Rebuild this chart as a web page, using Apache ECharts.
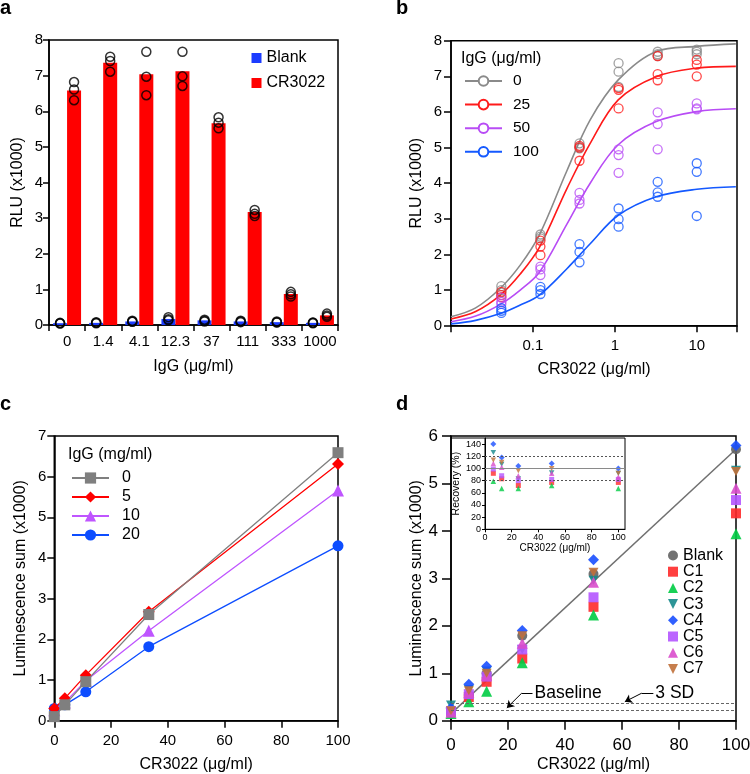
<!DOCTYPE html>
<html><head><meta charset="utf-8">
<script src="https://cdn.jsdelivr.net/npm/echarts@6/dist/echarts.min.js"></script>
<style>html,body{margin:0;padding:0;background:#fff}#c{width:750px;height:774px}</style>
</head><body><div id="c"></div>
<script>
// ---------- Panel a ----------
const aCategories = ['0','1.4','4.1','12.3','37','111','333','1000'];
const aBlankMeans = [0.05,0.06,0.10,0.17,0.13,0.10,0.08,0.06];
const aCR3022Means = [6.58,7.36,7.04,7.12,5.66,3.17,0.87,0.27];
const aBlankReps = [[0.06,0.05,0.04],[0.08,0.06,0.05],[0.12,0.10,0.09],[0.22,0.16,0.13],[0.15,0.12,0.10],[0.12,0.10,0.08],[0.10,0.08,0.07],[0.07,0.06,0.05]];
const aCR3022Reps = [[6.82,6.61,6.31],[7.53,7.41,7.11],[7.67,6.97,6.45],[7.67,6.98,6.71],[5.83,5.68,5.52],[3.23,3.12,3.06],[0.93,0.86,0.80],[0.32,0.27,0.23]];

// ---------- Panel b ----------
const bConc = [0.04115,0.1235,0.3704,1.111,3.333,10];
const bGroups = ['0','25','50','100'];
const bReps0 = [[1.11,1.00,0.93],[2.56,2.50,2.45],[5.12,5.02,4.98],[7.37,7.13,6.70],[7.69,7.62,7.57],[7.75,7.69,7.62]];
const bReps25 = [[0.95,0.86,0.80],[2.39,2.22,1.98],[5.05,5.00,4.63],[6.67,6.62,6.10],[7.57,7.06,6.89],[7.46,7.33,7.00]];
const bReps50 = [[0.79,0.67,0.61],[1.66,1.58,1.42],[3.73,3.53,3.43],[4.95,4.79,4.29],[5.99,5.66,4.95],[6.24,6.10,6.07]];
const bReps100 = [[0.49,0.42,0.36],[1.09,1.00,0.89],[2.29,2.07,1.78],[3.29,2.99,2.78],[4.04,3.74,3.62],[4.56,4.32,3.08]];
const bCurveX = [0.01,0.02,0.04,0.07,0.12,0.26,0.5,1.1,3.2,10,30];
const bCurve0 = [0.25,0.50,1.05,1.70,2.55,4.35,5.78,6.90,7.70,7.84,7.91];
const bCurve25 = [0.19,0.40,0.86,1.45,2.20,3.85,5.12,6.34,6.99,7.23,7.28];
const bCurve50 = [0.11,0.27,0.60,1.00,1.50,2.85,4.00,5.08,5.73,6.01,6.09];
const bCurve100 = [0.05,0.15,0.34,0.58,0.86,1.60,2.30,3.10,3.62,3.83,3.90];
const bTickLabels = ['0.1','1','10'];

// ---------- Panel c ----------
const cConc = [0,3.7,11.1,33.3,100];
const cGroups = ['0','5','10','20'];
const c0 = [0.10,0.39,0.96,2.61,6.59];
const c5 = [0.30,0.55,1.12,2.68,6.31];
const c10 = [0.26,0.45,0.98,2.21,5.66];
const c20 = [0.30,0.39,0.71,1.82,4.30];

// ---------- Panel d ----------
const dConc = [0,6.25,12.5,25,50,100];
const dNames = ['Blank','C1','C2','C3','C4','C5','C6','C7'];
const dBlank = [0.15,0.54,1.00,1.79,3.09,5.72];
const dC1 = [0.19,0.50,0.82,1.31,2.40,4.37];
const dC2 = [0.15,0.40,0.62,1.22,2.23,3.94];
const dC3 = [0.33,0.66,1.05,1.50,2.96,5.28];
const dC4 = [0.27,0.77,1.15,1.90,3.39,5.80];
const dC5 = [0.20,0.56,0.93,1.50,2.60,4.65];
const dC6 = [0.18,0.60,0.96,1.63,2.92,4.90];
const dC7 = [0.21,0.63,1.00,1.79,3.13,5.25];
const dFitX = [0,100];
const dFitY = [0.15,5.72];
const dBaseline = 0.225;
const d3SD = 0.365;
// inset: recovery (%)
const insetConc = [6.25,12.5,25,50,100];
const rC1 = [92,83,72,77,77];
const rC2 = [79,67,67,72,67];
const rC3 = [126,107,83,93,92];
const rC4 = [140,118,104,108,100];
const rC5 = [99,88,80,82,82];
const rC6 = [108,102,88,92,86];
const rC7 = [114,110,96,100,92];
const insetRefLines = [80,100,120];

const FONT = 'Liberation Sans, Arial, sans-serif';
const chart = echarts.init(document.getElementById('c'), null, {renderer:'canvas'});

function axis(o) {
  const base = {
    gridIndex: o.g, type: o.type || 'value', min: o.min, max: o.max, interval: o.interval,
    axisLine: {show:true, onZero:false, lineStyle:{color:'#000', width:o.lw || 1.5}},
    axisTick: {show:true, inside:false, length:o.tick, lineStyle:{color:'#000', width:o.lw || 1.5}},
    axisLabel: {color:'#000', fontSize:o.fs, fontFamily:FONT, margin:o.margin, showMaxLabel: o.showMax !== false, formatter:o.fmt},
    splitLine: {show:false},
    name: o.name, nameLocation:'middle', nameGap:o.nameGap,
    nameTextStyle: {color:'#000', fontSize:o.nfs || 16, fontFamily:FONT}
  };
  if (o.data) base.data = o.data;
  if (o.logBase) base.logBase = o.logBase;
  return base;
}
function pairs(xs, ys) { return xs.map((x,i)=>[x, ys[i]]); }
function reps(xs, r) { const out=[]; xs.forEach((x,i)=>r[i].forEach(v=>out.push([x,v]))); return out; }
const strip = n => n.split('|')[1];
const triDown = 'path://M0,0L10,0L5,10Z';

const grids = [
  {left:49, top:40, width:289, height:285},
  {left:451, top:40.7, width:286, height:285},
  {left:54.3, top:436, width:283.7, height:284.7},
  {left:451, top:436, width:285, height:284.7},
  {left:485, top:438, width:140, height:91.3}
].map(g => Object.assign({show:true, borderColor:'#000', borderWidth:1.5, backgroundColor:'transparent', containLabel:false, outerBoundsMode:'none'}, g));
grids[4].borderWidth = 1;

const xAxes = [
  axis({g:0, type:'category', data:aCategories, tick:6, fs:15, margin:9, name:'IgG (μg/ml)', nameGap:34}),
  axis({g:1, type:'log', logBase:10, min:0.01, max:31, tick:6.5, fs:15, margin:13, name:'CR3022 (μg/ml)', nameGap:36,
        fmt: v => { const l = Math.log10(v); const r = Math.round(l); return (Math.abs(l-r) < 1e-6 && r >= -1 && r <= 1) ? bTickLabels[r+1] : ''; }}),
  axis({g:2, min:0, max:100, interval:20, tick:7, fs:15, margin:13, name:'CR3022 (μg/ml)', nameGap:36}),
  axis({g:3, min:0, max:100, interval:20, tick:9, fs:17, margin:16, name:'CR3022 (μg/ml)', nameGap:36}),
  axis({g:4, min:0, max:105, interval:20, tick:3, fs:9, margin:4, showMax:false, lw:1, name:'CR3022 (μg/ml)', nameGap:13, nfs:10})
];
xAxes[0].axisTick.alignWithLabel = false;
xAxes[0].axisTick.interval = 0;
xAxes[0].axisLabel.interval = 0;
xAxes[0].boundaryGap = true;

const yAxes = [
  axis({g:0, min:0, max:8, interval:1, tick:6, fs:15, margin:6, name:'RLU (x1000)', nameGap:23}),
  axis({g:1, min:0, max:8, interval:1, tick:7, fs:15, margin:9, name:'RLU (x1000)', nameGap:26}),
  axis({g:2, min:0, max:7, interval:1, tick:7, fs:15, margin:8, name:'Luminescence sum (x1000)', nameGap:26}),
  axis({g:3, min:0, max:6, interval:1, tick:9, fs:17, margin:13, name:'Luminescence sum (x1000)', nameGap:26}),
  axis({g:4, min:0, max:150, interval:20, tick:3, fs:9, margin:4, showMax:false, lw:1, name:'Recovery (%)', nameGap:21, nfs:10.5})
];

const series = [];
// Panel a
const aBlue = '#1c3cff', aRed = '#ff0000';
series.push({type:'bar', name:'a|Blank', xAxisIndex:0, yAxisIndex:0, data:aBlankMeans, barWidth:14, barGap:'0%', itemStyle:{color:aBlue}});
series.push({type:'bar', name:'a|CR3022', xAxisIndex:0, yAxisIndex:0, data:aCR3022Means, barWidth:14, barGap:'0%', itemStyle:{color:aRed}});
series.push({type:'scatter', name:'a|BlankPts', xAxisIndex:0, yAxisIndex:0, data:reps(aCategories.map((c,i)=>i), aBlankReps),
  symbol:'circle', symbolSize:9, symbolOffset:[-7,0], itemStyle:{color:'transparent', borderColor:'#000', borderWidth:1.5}, z:5});
series.push({type:'scatter', name:'a|CRPts', xAxisIndex:0, yAxisIndex:0, data:reps(aCategories.map((c,i)=>i), aCR3022Reps),
  symbol:'circle', symbolSize:9, symbolOffset:[7,0], itemStyle:{color:'transparent', borderColor:'#000', borderWidth:1.5}, z:5});

// Panel b
const bColors = ['#8a8a8a','#ff1a1a','#b84cf5','#1459ff'];
const bCurves = [bCurve0,bCurve25,bCurve50,bCurve100];
const bReps = [bReps0,bReps25,bReps50,bReps100];
bGroups.forEach((g,i)=>{
  series.push({type:'line', name:'b|'+g, xAxisIndex:1, yAxisIndex:1, data:pairs(bCurveX, bCurves[i]),
    smooth:0.35, symbol:'emptyCircle', symbolSize:9, showSymbol:false,
    lineStyle:{color:bColors[i], width:1.6}, itemStyle:{color:bColors[i], borderWidth:1.5}, z:3});
});
bGroups.forEach((g,i)=>{
  series.push({type:'scatter', name:'b|'+g, xAxisIndex:1, yAxisIndex:1, data:reps(bConc, bReps[i]),
    symbol:'circle', symbolSize:9, itemStyle:{color:'transparent', borderColor:bColors[i], borderWidth:1.3}, z:4});
});

// Panel c
const cColors = ['#7f7f7f','#ff0000','#bf55ff','#0d4dff'];
const cData = [c0,c5,c10,c20];
const cSym = ['rect','diamond','triangle','circle'];
const cSize = [11,12,12,11];
[3,2,1,0].forEach(i=>{
  series.push({type:'line', name:'c|'+cGroups[i], xAxisIndex:2, yAxisIndex:2, data:pairs(cConc, cData[i]),
    symbol:cSym[i], symbolSize:cSize[i], showSymbol:true, lineStyle:{color:cColors[i], width:1.3},
    itemStyle:{color:cColors[i]}, z:3+(3-i)});
});

// Panel d
series.push({type:'line', name:'d|fit', xAxisIndex:3, yAxisIndex:3, data:pairs(dFitX, dFitY), symbol:'none',
  lineStyle:{color:'#707070', width:1.5}, z:2, silent:true,
  markLine:{silent:true, symbol:['none','none'], animation:false, label:{show:false},
    data:[
      {yAxis:dBaseline, lineStyle:{type:[3,2], color:'#666', width:1}},
      {yAxis:d3SD, lineStyle:{type:[3,2], color:'#666', width:1}},
      [{coord:[24.8,0.58], symbol:'none'},{coord:[19.6,0.27], symbol:'arrow', symbolSize:7}],
      [{coord:[24.8,0.58], symbol:'none', lineStyle:{color:'#000', width:1}, label:{show:true, position:'end', formatter:'Baseline', color:'#000', fontSize:17.5, fontFamily:FONT, distance:2}},{coord:[28.6,0.58], symbol:'none'}],
      [{coord:[66.9,0.58], symbol:'none'},{coord:[61,0.40], symbol:'arrow', symbolSize:7}],
      [{coord:[66.9,0.58], symbol:'none', lineStyle:{color:'#000', width:1}, label:{show:true, position:'end', formatter:'3 SD', color:'#000', fontSize:17.5, fontFamily:FONT, distance:2}},{coord:[71,0.58], symbol:'none'}]
    ].map(it => Array.isArray(it) ? it.map(p=>Object.assign({lineStyle:{color:'#000', width:1, type:'solid'}}, p)) : it)
  }
});
const dColors = ['#636363','#ff2a2a','#00cc44','#168a8c','#1a4fff','#b455ff','#d94ccc','#c0703a'];
const dData = [dBlank,dC1,dC2,dC3,dC4,dC5,dC6,dC7];
const dSym = ['circle','rect','triangle',triDown,'diamond','rect','triangle',triDown];
const dSize = [10,10,11,[10,9],11,10,11,[10,9]];
dNames.forEach((n,i)=>{
  series.push({type:'scatter', name:'d|'+n, xAxisIndex:3, yAxisIndex:3, data:pairs(dConc, dData[i]),
    symbol:dSym[i], symbolSize:dSize[i], itemStyle:{color:dColors[i], opacity:0.9}, z:4});
});
// Inset
const rData = [rC1,rC2,rC3,rC4,rC5,rC6,rC7];
const iSize = [5,5.5,[5.5,5],6,5,5.5,[5.5,5]];
rData.forEach((r,k)=>{
  const i = k+1;
  const s = {type:'scatter', name:'i|'+dNames[i], xAxisIndex:4, yAxisIndex:4, data:pairs(insetConc, r),
    symbol:dSym[i], symbolSize:iSize[k], itemStyle:{color:dColors[i]}, z:4};
  if (k===0) {
    s.markLine = {silent:true, symbol:['none','none'], animation:false, label:{show:false},
      data: insetRefLines.map(v => ({yAxis:v, lineStyle: v===100 ? {type:'solid', color:'#8a8a8a', width:1.2} : {type:[2,2], color:'#555', width:1}}))};
  }
  series.push(s);
});

const legendText = {color:'#000', fontFamily:FONT};
const option = {
  animation:false,
  backgroundColor:'#fff',
  title:[
    {text:'a', left:0, top:-2, padding:0, textStyle:{fontSize:20, fontWeight:'bold', fontFamily:FONT, color:'#000'}},
    {text:'b', left:396, top:-2, padding:0, textStyle:{fontSize:20, fontWeight:'bold', fontFamily:FONT, color:'#000'}},
    {text:'c', left:0, top:394, padding:0, textStyle:{fontSize:20, fontWeight:'bold', fontFamily:FONT, color:'#000'}},
    {text:'d', left:396, top:394, padding:0, textStyle:{fontSize:20, fontWeight:'bold', fontFamily:FONT, color:'#000'}},
    {text:'IgG (μg/ml)', left:461, top:51, padding:0, textStyle:{fontSize:16, fontWeight:'normal', fontFamily:FONT, color:'#000'}},
    {text:'IgG (mg/ml)', left:68, top:447, padding:0, textStyle:{fontSize:16, fontWeight:'normal', fontFamily:FONT, color:'#000'}}
  ],
  legend:[
    {data:['a|Blank','a|CR3022'], orient:'vertical', left:251.5, top:50, padding:0, itemWidth:10, itemHeight:10, itemGap:9,
      icon:'rect', formatter:strip, selectedMode:false, textStyle:Object.assign({fontSize:16}, legendText)},
    {data:bGroups.map(g=>'b|'+g), orient:'vertical', left:464, top:73, padding:0, itemWidth:37, itemHeight:12, itemGap:7.6,
      formatter:strip, selectedMode:false, textStyle:Object.assign({fontSize:15.5, padding:[0,0,0,6]}, legendText)},
    {data:cGroups.map(g=>'c|'+g), orient:'vertical', left:71, top:470, padding:0, itemWidth:37, itemHeight:14, itemGap:3,
      formatter:strip, selectedMode:false, textStyle:Object.assign({fontSize:16, padding:[0,0,0,8]}, legendText)},
    {data:dNames.map(n=>'d|'+n), orient:'vertical', left:668, top:547.5, padding:0, itemWidth:10, itemHeight:10, itemGap:0.2,
      formatter:strip, selectedMode:false, textStyle:Object.assign({fontSize:16, lineHeight:15.5}, legendText)}
  ],
  grid:grids,
  xAxis:xAxes,
  yAxis:yAxes,
  series:series
};
chart.setOption(option);
// inset frame extension to the main axis
const p = chart.convertToPixel({gridIndex:4}, [0,150]);
chart.setOption({graphic:[{type:'line', shape:{x1:451, y1:p[1], x2:p[0], y2:p[1]}, style:{stroke:'#000', lineWidth:1}, silent:true}]});
</script></body></html>
